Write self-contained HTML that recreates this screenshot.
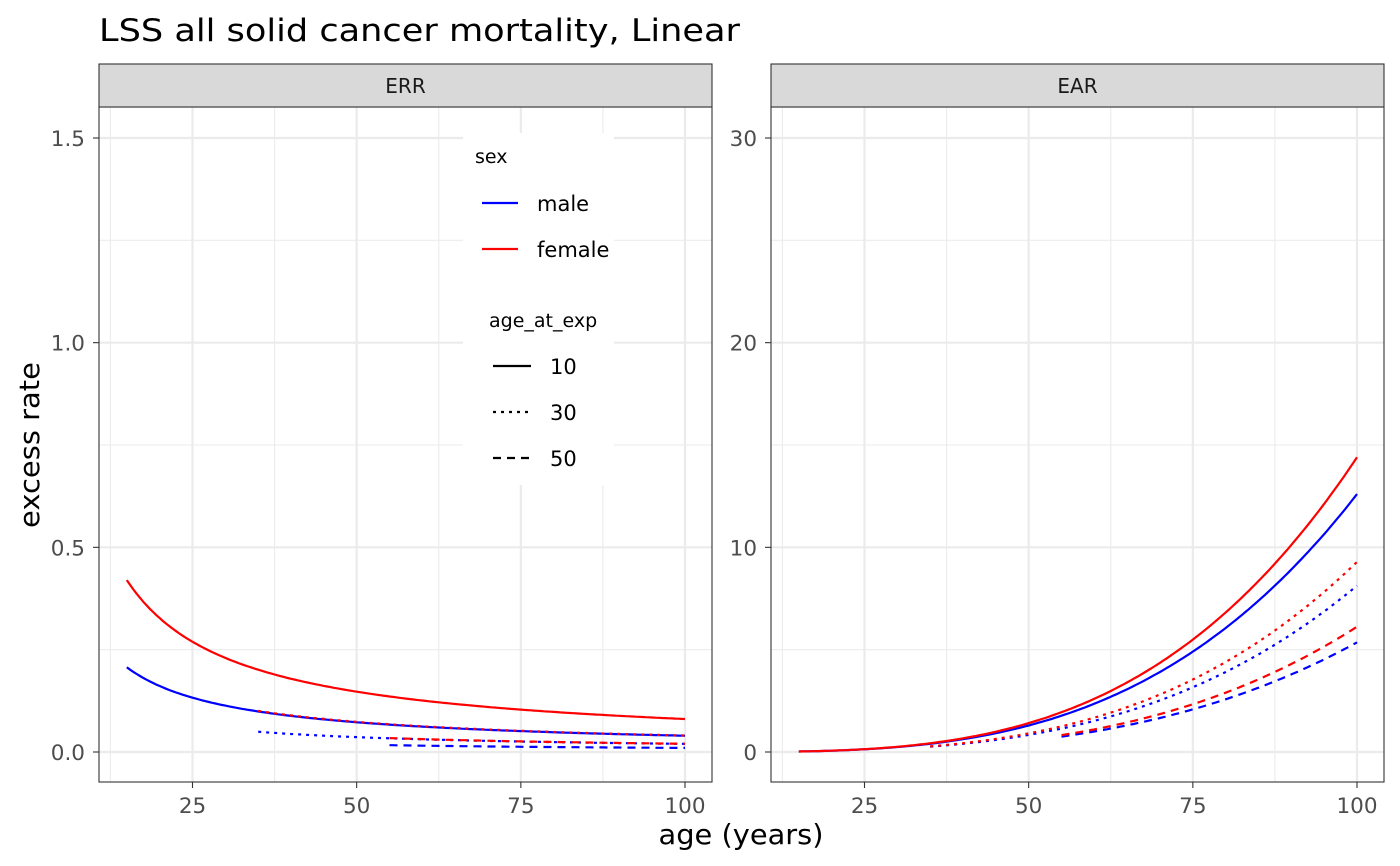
<!DOCTYPE html>
<html><head><meta charset="utf-8"><style>
html,body{margin:0;padding:0;background:#fff}
svg{display:block;font-family:"DejaVu Sans","Liberation Sans",sans-serif}
</style></head><body>
<svg id="s" width="1400" height="866" viewBox="0 0 1400 866" xmlns="http://www.w3.org/2000/svg">
<rect width="1400" height="866" fill="#fff"/>
<text x="99" y="41" font-size="31" fill="#000" textLength="641" lengthAdjust="spacingAndGlyphs">LSS all solid cancer mortality, Linear</text>
<g id="panels"></g>
<text x="741" y="844" font-size="28" text-anchor="middle" fill="#000" textLength="165" lengthAdjust="spacingAndGlyphs">age (years)</text>
<text transform="translate(39,445) rotate(-90)" font-size="28" text-anchor="middle" fill="#000" textLength="166" lengthAdjust="spacingAndGlyphs">excess rate</text>
</svg>
<script>
const NS="http://www.w3.org/2000/svg";
const g=document.getElementById('panels');
function el(t,a,txt){const e=document.createElementNS(NS,t);for(const k in a)e.setAttribute(k,a[k]);if(txt!==undefined)e.textContent=txt;g.appendChild(e);return e;}
const Y0=752,T=107,B=782;
function panel(x0,x1,name,ymax,yt,ylab,curves,legend){
  const X=a=>x0+93.5+(a-25)*6.5667;
  const Y=v=>Y0-v/ymax*614;
  el('rect',{x:x0,y:T,width:x1-x0,height:B-T,fill:'#fff'});
  [12.5,37.5,62.5,87.5].forEach(a=>el('line',{x1:X(a),x2:X(a),y1:T,y2:B,stroke:'#EBEBEB','stroke-width':1.1}));
  [0.25,0.75,1.25].forEach(f=>el('line',{x1:x0,x2:x1,y1:Y(f*ymax/1.5),y2:Y(f*ymax/1.5),stroke:'#EBEBEB','stroke-width':1.1}));
  [25,50,75,100].forEach(a=>el('line',{x1:X(a),x2:X(a),y1:T,y2:B,stroke:'#EBEBEB','stroke-width':2.2}));
  yt.forEach(v=>el('line',{x1:x0,x2:x1,y1:Y(v),y2:Y(v),stroke:'#EBEBEB','stroke-width':2.2}));
  curves.forEach(c=>{
    let pts=[];for(let a=c.s;a<=100.001;a+=0.5)pts.push(X(a).toFixed(1)+','+Y(c.f(a)).toFixed(1));
    const at={points:pts.join(' '),fill:'none',stroke:c.col,'stroke-width':2.2};
    if(c.d)at['stroke-dasharray']=c.d;
    el('polyline',at);
  });
  if(legend)legend();
  el('rect',{x:x0,y:T,width:x1-x0,height:B-T,fill:'none',stroke:'#333','stroke-width':1.1});
  el('rect',{x:x0,y:64,width:x1-x0,height:43,fill:'#D9D9D9',stroke:'#333','stroke-width':1.1});
  el('text',{x:(x0+x1)/2,y:93,'font-size':20,'text-anchor':'middle',fill:'#1A1A1A'},name);
  yt.forEach((v,i)=>{el('line',{x1:x0-6,x2:x0,y1:Y(v),y2:Y(v),stroke:'#333','stroke-width':1.1});
    el('text',{x:x0-14,y:Y(v)+8,'font-size':21.5,'text-anchor':'end',fill:'#4D4D4D'},ylab[i]);});
  [25,50,75,100].forEach(a=>{el('line',{x1:X(a),x2:X(a),y1:B,y2:B+6,stroke:'#333','stroke-width':1.1});
    el('text',{x:X(a),y:B+31,'font-size':21.5,'text-anchor':'middle',fill:'#4D4D4D'},String(a));});
}
const DOT='3 5',DASH='8 6';
const errC=[];
[[0.207,'#0000FF'],[0.42,'#FF0000']].forEach(([b,col])=>{
  [[10,1,null],[30,0.5,DOT],[50,0.25,DASH]].forEach(([e,f,d])=>errC.push({s:e+5,col,d,f:a=>b*f*Math.pow(a/15,-0.87)}));
});
const earC=[];
[[12.6,3.28,'#0000FF'],[14.4,3.35,'#FF0000']].forEach(([b,eta,col])=>{
  [[10,1,null],[30,0.645,DOT],[50,0.425,DASH]].forEach(([e,f,d])=>earC.push({s:e+5,col,d,f:a=>b*f*Math.pow(a/100,eta)}));
});
panel(99,712,'ERR',1.5,[0,0.5,1,1.5],['0.0','0.5','1.0','1.5'],errC,()=>{
  el('rect',{x:463,y:133,width:151,height:352,fill:'#fff'});
  el('text',{x:475,y:163,'font-size':19,fill:'#000'},'sex');
  el('line',{x1:482,x2:518,y1:203,y2:203,stroke:'#0000FF','stroke-width':2.2});
  el('text',{x:537,y:211,'font-size':21,fill:'#000'},'male');
  el('line',{x1:482,x2:518,y1:249,y2:249,stroke:'#FF0000','stroke-width':2.2});
  el('text',{x:537,y:257,'font-size':21,fill:'#000'},'female');
  el('text',{x:489,y:327,'font-size':19,fill:'#000'},'age_at_exp');
  el('line',{x1:493,x2:531,y1:366,y2:366,stroke:'#000','stroke-width':2.2});
  el('text',{x:550,y:374,'font-size':21,fill:'#000'},'10');
  el('line',{x1:493,x2:531,y1:412,y2:412,stroke:'#000','stroke-width':2.2,'stroke-dasharray':DOT});
  el('text',{x:550,y:420,'font-size':21,fill:'#000'},'30');
  el('line',{x1:493,x2:531,y1:458,y2:458,stroke:'#000','stroke-width':2.2,'stroke-dasharray':DASH});
  el('text',{x:550,y:466,'font-size':21,fill:'#000'},'50');
});
panel(771,1384,'EAR',30,[0,10,20,30],['0','10','20','30'],earC,null);
</script>
</body></html>
